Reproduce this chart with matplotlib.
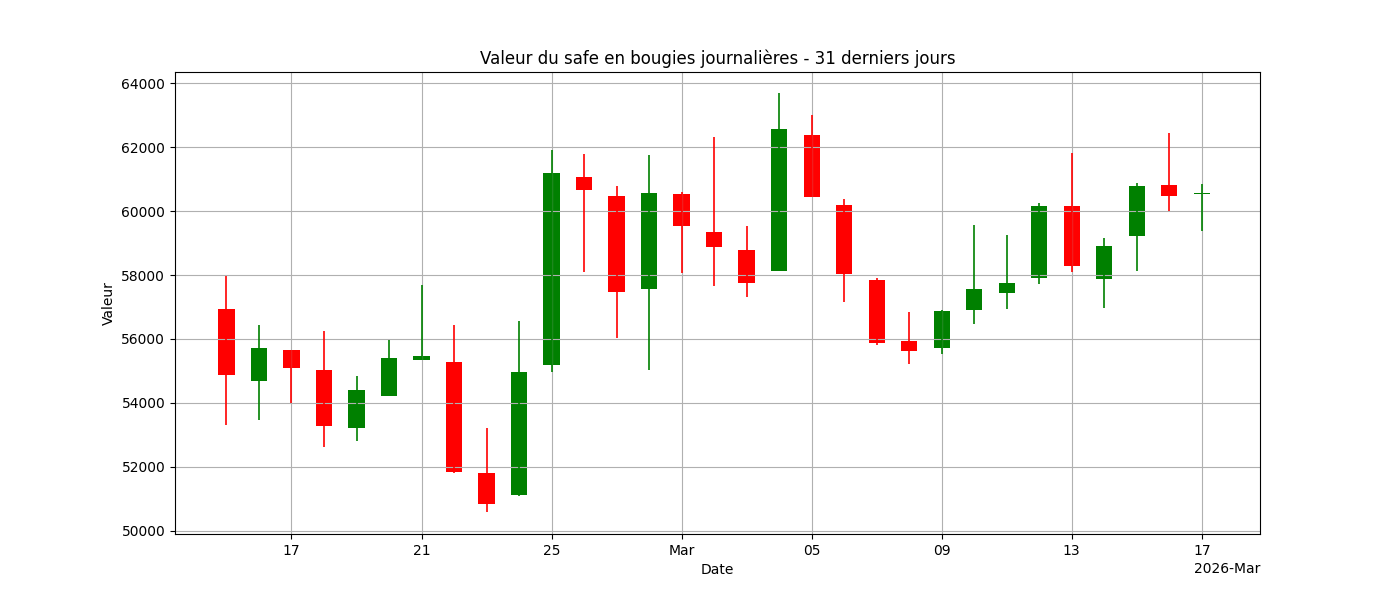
import pandas as pd
import matplotlib
matplotlib.use("Agg")
import matplotlib.pyplot as plt
import matplotlib.dates as mdates

# Données journalières (ouverture, clôture, haut, bas)
jours = pd.date_range("2026-02-15", "2026-03-17", freq="D")
ouverture = [56950, 54690, 55660, 55030, 53220, 54220, 55340, 55280, 51810, 51125,
             55190, 61060, 60470, 57560, 60530, 59340, 58780, 58125, 62375, 60190,
             57840, 55940, 55720, 56910, 57440, 57910, 60160, 57875, 59220, 60810, 60530]
cloture = [54880, 55720, 55100, 53280, 54410, 55410, 55470, 51840, 50840, 54970,
           61190, 60660, 57470, 60560, 59530, 58875, 57750, 62560, 60440, 58030,
           55875, 55625, 56875, 57560, 57750, 60160, 58280, 58910, 60780, 60470, 60560]
haut = [57970, 56440, 55660, 56250, 54840, 55970, 57690, 56440, 53220, 56560,
        61910, 61780, 60780, 61750, 60600, 62310, 59530, 63690, 63000, 60375,
        57900, 56840, 56910, 59560, 59250, 60250, 61810, 59160, 60875, 62440, 60840]
bas = [53310, 53470, 54000, 52625, 52810, 54220, 55340, 51810, 50590, 51100,
       54970, 58090, 56030, 55030, 58060, 57660, 57310, 58125, 60440, 57160,
       55810, 55220, 55530, 56470, 56940, 57720, 58090, 56970, 58125, 60000, 59375]

df = pd.DataFrame({"open": ouverture, "close": cloture, "high": haut, "low": bas}, index=jours)
couleurs = ["green" if c >= o else "red" for o, c in zip(df["open"], df["close"])]

fig, ax = plt.subplots(figsize=(14, 6))
ax.vlines(df.index, df["low"], df["high"], colors=couleurs, linewidth=1.2)
bas_corps = df[["open", "close"]].min(axis=1)
hauteur = (df["close"] - df["open"]).abs().clip(lower=15)
ax.bar(df.index, hauteur, bottom=bas_corps, width=0.5, color=couleurs)

loc = mdates.AutoDateLocator()
ax.xaxis.set_major_locator(loc)
ax.xaxis.set_major_formatter(mdates.ConciseDateFormatter(loc))
ax.set_xlim(pd.Timestamp("2026-02-13 10:00"), pd.Timestamp("2026-03-18 19:00"))
ax.set_ylim(49906, 64344)
ax.set_title("Valeur du safe en bougies journalières - 31 derniers jours")
ax.set_xlabel("Date")
ax.set_ylabel("Valeur")
ax.grid(True)
fig.savefig("out.png", dpi=100)
